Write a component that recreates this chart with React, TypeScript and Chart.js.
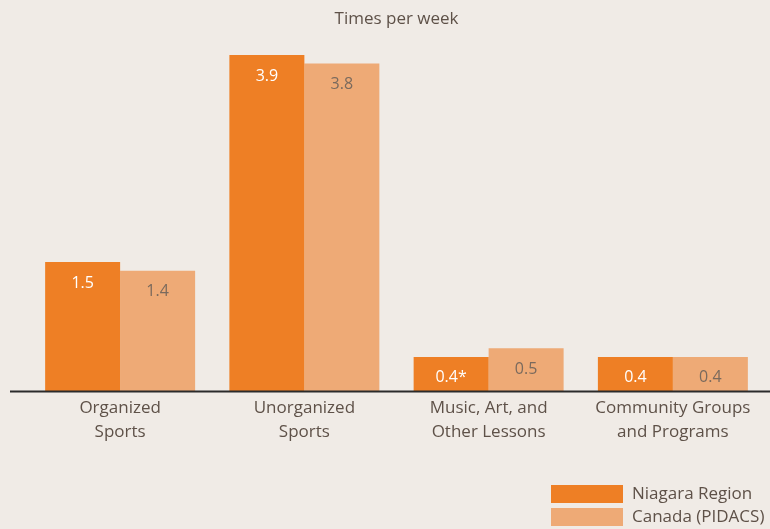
import React, { useEffect, useRef } from "react";
import { Chart, registerables } from "chart.js";

Chart.register(...registerables);

const categories: string[][] = [
  ["Organized", "Sports"],
  ["Unorganized", "Sports"],
  ["Music, Art, and", "Other Lessons"],
  ["Community Groups", "and Programs"],
];
const niagaraValues = [1.5, 3.9, 0.4, 0.4];
const canadaValues = [1.4, 3.8, 0.5, 0.4];
const niagaraLabels = ["1.5", "3.9", "0.4*", "0.4"];
const canadaLabels = ["1.4", "3.8", "0.5", "0.4"];
const seriesNames = ["Niagara Region", "Canada (PIDACS)"];
const titleText = "Times per week";

const BG = "#f0ebe6";
const TEXT = "#5e5148";
const FONT = "'Open Sans', 'Noto Sans', sans-serif";

export default function App() {
  const ref = useRef<HTMLCanvasElement | null>(null);

  useEffect(() => {
    document.body.style.margin = "0";
    document.body.style.background = BG;
    const canvas = ref.current;
    if (!canvas) return;

    const bgPlugin = {
      id: "bg",
      beforeDraw(chart: any) {
        const { ctx, width, height } = chart;
        ctx.save();
        ctx.fillStyle = BG;
        ctx.fillRect(0, 0, width, height);
        ctx.restore();
      },
    };

    const baselinePlugin = {
      id: "baseline",
      afterDatasetsDraw(chart: any) {
        const { ctx, width } = chart;
        const y = chart.scales.y.getPixelForValue(0);
        ctx.save();
        ctx.strokeStyle = "#2b2b2b";
        ctx.lineWidth = 2;
        ctx.beginPath();
        ctx.moveTo(10, y);
        ctx.lineTo(width, y);
        ctx.stroke();
        ctx.restore();
      },
    };

    const valueLabelPlugin = {
      id: "valueLabels",
      afterDatasetsDraw(chart: any) {
        const { ctx } = chart;
        const labelSets = [niagaraLabels, canadaLabels];
        const colors = ["#ffffff", "#7a6a5d"];
        ctx.save();
        ctx.font = `16px ${FONT}`;
        ctx.textAlign = "center";
        ctx.textBaseline = "middle";
        chart.data.datasets.forEach((_ds: any, di: number) => {
          const meta = chart.getDatasetMeta(di);
          meta.data.forEach((bar: any, i: number) => {
            ctx.fillStyle = colors[di];
            ctx.fillText(labelSets[di][i], bar.x, bar.y + 21);
          });
        });
        ctx.restore();
      },
    };

    const legendPlugin = {
      id: "customLegend",
      afterDraw(chart: any) {
        const { ctx } = chart;
        ctx.save();
        ctx.font = `17px ${FONT}`;
        ctx.textBaseline = "middle";
        ctx.textAlign = "left";
        chart.data.datasets.forEach((ds: any, i: number) => {
          const y = 485 + i * 23;
          ctx.fillStyle = ds.backgroundColor;
          ctx.fillRect(551, y, 72, 18);
          ctx.fillStyle = TEXT;
          ctx.fillText(ds.label, 632, y + 9);
        });
        ctx.restore();
      },
    };

    const chart = new Chart(canvas, {
      type: "bar",
      data: {
        labels: categories,
        datasets: [
          {
            label: seriesNames[0],
            data: niagaraValues,
            backgroundColor: "#ee7f25",
            categoryPercentage: 0.814,
            barPercentage: 1,
          },
          {
            label: seriesNames[1],
            data: canadaValues,
            backgroundColor: "#eeaa76",
            categoryPercentage: 0.814,
            barPercentage: 1,
          },
        ],
      },
      options: {
        animation: false,
        responsive: false,
        maintainAspectRatio: false,
        layout: { padding: { left: 28, right: 5, top: 0, bottom: 80 } },
        plugins: {
          legend: { display: false },
          tooltip: { enabled: false },
          title: {
            display: true,
            text: titleText,
            color: TEXT,
            font: { family: FONT, size: 17, weight: "normal", lineHeight: 1.2 },
            padding: { top: 9, bottom: 4 },
          },
        },
        scales: {
          x: {
            grid: { display: false, drawTicks: false },
            border: { display: false },
            ticks: {
              color: TEXT,
              padding: 5,
              maxRotation: 0,
              autoSkip: false,
              font: { family: FONT, size: 17, lineHeight: 1.4 },
            },
          },
          y: {
            display: false,
            min: 0,
            max: 4.15,
          },
        },
      },
      plugins: [bgPlugin, baselinePlugin, valueLabelPlugin, legendPlugin],
    });

    return () => chart.destroy();
  }, []);

  return (
    <div style={{ position: "fixed", left: 0, top: 0, width: 770, height: 529, background: BG }}>
      <canvas ref={ref} width={770} height={529} style={{ width: 770, height: 529, display: "block" }} />
    </div>
  );
}
